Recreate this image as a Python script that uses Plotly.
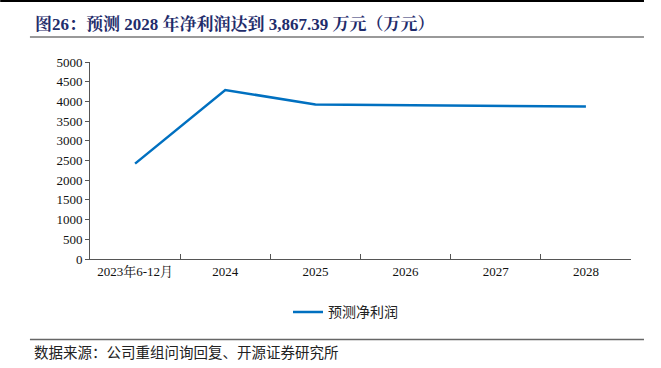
import plotly.graph_objects as go

categories = ["2023年6-12月", "2024", "2025", "2026", "2027", "2028"]
net_profit = [2420, 4290, 3920, 3900, 3880, 3867.39]
y_ticks = [0, 500, 1000, 1500, 2000, 2500, 3000, 3500, 4000, 4500, 5000]

SERIF = "Liberation Serif, Noto Serif CJK SC, Noto Sans CJK SC"
CJK = "Noto Sans CJK SC"

fig = go.Figure()
fig.add_trace(go.Scatter(
    x=categories, y=net_profit, mode="lines", name="预测净利润",
    line=dict(color="#0070C0", width=2.5),
))

fig.update_layout(
    width=661, height=368,
    margin=dict(l=90, r=30, t=62, b=109, autoexpand=False),
    paper_bgcolor="white", plot_bgcolor="white",
    showlegend=True,
    legend=dict(orientation="h", x=0.366, xanchor="left", y=-0.19, yanchor="top",
                font=dict(family=CJK, size=14, color="#222")),
    xaxis=dict(type="category", range=[-0.5, 5.5], showline=True, linecolor="#555", linewidth=1,
               ticks="inside", ticklen=5, tickcolor="#555", tickson="boundaries",
               showgrid=False, tickfont=dict(family=SERIF, size=13, color="#111")),
    yaxis=dict(range=[0, 5000], tickvals=y_ticks, showline=True, linecolor="#555",
               linewidth=1, ticks="outside", ticklen=4, tickcolor="#555",
               showgrid=False, zeroline=False,
               tickfont=dict(family=SERIF, size=13, color="#111")),
    annotations=[
        dict(text="<b>图26：预测 2028 年净利润达到 3,867.39 万元（万元）</b>",
             xref="paper", yref="paper", x=-0.106, y=1.193, xanchor="left", yanchor="middle",
             showarrow=False, font=dict(family=SERIF, size=17, color="#1F2D6B")),
        dict(text="数据来源：公司重组问询回复、开源证券研究所",
             xref="paper", yref="paper", x=-0.108, y=-0.472, xanchor="left", yanchor="middle",
             showarrow=False, font=dict(family=CJK, size=14.5, color="#222")),
    ],
    shapes=[
        dict(type="line", xref="paper", yref="paper", x0=-0.166, x1=1.024, y0=1.31, y1=1.31,
             line=dict(color="#000", width=2)),
        dict(type="line", xref="paper", yref="paper", x0=-0.111, x1=1.024, y0=1.127, y1=1.127,
             line=dict(color="#999", width=2)),
        dict(type="line", xref="paper", yref="paper", x0=-0.111, x1=1.024, y0=-0.409, y1=-0.409,
             line=dict(color="#666", width=1.5)),
    ],
)

fig.write_html("out.html", config={"displayModeBar": False},
               post_script="document.body.style.margin='0';")
